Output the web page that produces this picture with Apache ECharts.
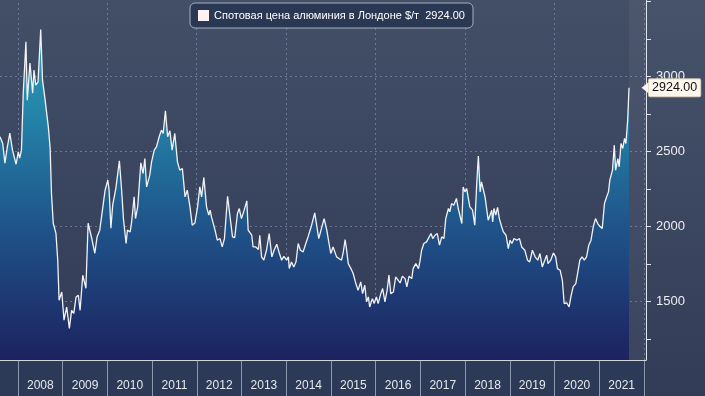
<!DOCTYPE html>
<html><head><meta charset="utf-8">
<script src="https://cdn.jsdelivr.net/npm/echarts@6/dist/echarts.min.js"></script>
<style>html,body{margin:0;padding:0;background:#3a4560;}#c{width:705px;height:396px;}</style>
</head><body><div id="c"></div>
<script>
const seriesName = 'Спотовая цена алюминия в Лондоне $/т';
const yearLabels = ['2008','2009','2010','2011','2012','2013','2014','2015','2016','2017','2018','2019','2020','2021'];
const yLabelValues = [1500, 2000, 2500, 3000];
const yTickValues = [1250, 1500, 1750, 2000, 2250, 2500, 2750, 3000, 3250, 3500];
const gridYears = [2008, 2010, 2012, 2014, 2016, 2018, 2020, 2022];
const axisStartYear = 2007.60;
const axisEndYear = 2022.05;
const yMin = 1111, yMax = 3509;

const dates = [
2007.60,2007.66,2007.71,2007.76,2007.82,2007.88,2007.96,2008.01,2008.04,2008.08,2008.12,2008.18,2008.21,2008.27,2008.33,2008.36,2008.40,2008.45,2008.51,2008.55,
2008.60,2008.68,2008.72,2008.75,2008.79,2008.85,2008.89,2008.92,2008.98,2009.03,2009.09,2009.15,2009.20,2009.25,2009.30,2009.35,2009.39,2009.45,2009.52,2009.57,
2009.65,2009.72,2009.77,2009.83,2009.87,2009.95,2010.01,2010.04,2010.08,2010.12,2010.19,2010.27,2010.32,2010.36,2010.42,2010.45,2010.51,2010.54,2010.60,2010.63,
2010.68,2010.75,2010.80,2010.84,2010.88,2010.95,2010.99,2011.05,2011.10,2011.16,2011.21,2011.25,2011.30,2011.35,2011.40,2011.45,2011.51,2011.57,2011.62,2011.68,
2011.74,2011.79,2011.85,2011.90,2011.96,2012.02,2012.07,2012.11,2012.16,2012.22,2012.27,2012.30,2012.33,2012.41,2012.46,2012.52,2012.57,2012.62,2012.69,2012.74,
2012.80,2012.85,2012.91,2012.95,2013.00,2013.06,2013.12,2013.15,2013.23,2013.26,2013.32,2013.38,2013.41,2013.45,2013.50,2013.56,2013.62,2013.68,2013.73,2013.79,
2013.85,2013.90,2013.95,2014.01,2014.05,2014.07,2014.12,2014.17,2014.22,2014.27,2014.32,2014.38,2014.44,2014.49,2014.57,2014.64,2014.73,2014.78,2014.85,2014.91,
2014.96,2015.00,2015.05,2015.09,2015.13,2015.18,2015.24,2015.28,2015.32,2015.35,2015.39,2015.45,2015.50,2015.55,2015.61,2015.67,2015.71,2015.76,2015.80,2015.84,
2015.87,2015.93,2015.97,2016.02,2016.06,2016.12,2016.16,2016.21,2016.26,2016.30,2016.34,2016.40,2016.45,2016.49,2016.55,2016.60,2016.66,2016.70,2016.75,2016.81,
2016.84,2016.90,2016.96,2016.99,2017.03,2017.08,2017.14,2017.20,2017.24,2017.28,2017.33,2017.38,2017.43,2017.48,2017.53,2017.57,2017.63,2017.66,2017.70,2017.75,
2017.81,2017.85,2017.89,2017.93,2017.96,2018.00,2018.04,2018.07,2018.11,2018.17,2018.22,2018.26,2018.30,2018.34,2018.37,2018.41,2018.45,2018.49,2018.52,2018.56,
2018.60,2018.62,2018.65,2018.69,2018.73,2018.77,2018.82,2018.86,2018.92,2018.97,2019.01,2019.05,2019.10,2019.16,2019.22,2019.27,2019.34,2019.40,2019.45,2019.51,
2019.57,2019.63,2019.68,2019.73,2019.77,2019.83,2019.86,2019.92,2019.98,2020.03,2020.07,2020.13,2020.18,2020.22,2020.28,2020.33,2020.37,2020.42,2020.48,2020.52,
2020.57,2020.62,2020.67,2020.72,2020.77,2020.82,2020.87,2020.92,2020.97,2021.02,2021.07,2021.12,2021.17,2021.21,2021.24,2021.30,2021.34,2021.37,2021.42,2021.45,
2021.49,2021.53,2021.57,2021.60,2021.64,2021.67
];
const prices = [
2598,2555,2422,2522,2622,2509,2415,2498,2456,2509,2889,3231,2842,3089,2889,3042,2942,2964,3313,2976,
2864,2664,2522,2222,2022,1955,1776,1509,1564,1376,1464,1322,1442,1422,1531,1542,1442,1676,1589,2022,
1922,1822,1931,1976,2064,2242,2309,2242,1989,2142,2253,2438,2242,2053,1887,1976,1964,2020,2198,2053,
2131,2424,2353,2453,2264,2342,2431,2509,2531,2598,2642,2620,2771,2598,2638,2509,2620,2431,2376,2387,
2198,2242,2131,2009,2024,2131,2264,2198,2327,2131,2076,2109,2064,1976,1909,1920,1864,1920,2202,2076,
1931,1927,2087,2120,2053,2109,2171,1976,1942,1864,1864,1847,1942,1798,1776,1842,1953,1798,1842,1882,
1820,1776,1802,1776,1798,1720,1764,1731,1764,1887,1842,1831,1887,1931,2009,2091,1920,1976,2053,1976,
1887,1820,1864,1876,1798,1787,1776,1831,1913,1853,1753,1720,1687,1631,1575,1631,1553,1609,1498,1531,
1464,1520,1487,1531,1487,1553,1587,1498,1575,1676,1553,1564,1664,1669,1624,1669,1653,1598,1669,1653,
1720,1753,1720,1764,1842,1887,1898,1931,1953,1920,1942,1953,1876,1931,1920,2053,2120,2098,2153,2142,
2187,2120,2131,2020,2264,2231,2253,2198,2131,2109,2009,2264,2469,2231,2298,2309,2198,2109,2042,2042,
2109,2031,2120,2076,2127,2053,2000,1964,1942,1853,1909,1887,1920,1909,1920,1864,1842,1776,1764,1842,
1798,1776,1820,1731,1742,1809,1753,1776,1824,1798,1720,1709,1642,1487,1491,1464,1531,1598,1620,1687,
1776,1798,1776,1798,1876,1909,2000,2053,2020,2000,1987,2153,2198,2231,2309,2376,2542,2376,2453,2398,
2553,2520,2587,2553,2709,2924
];

function yearToTs(y) {
  const Y = Math.floor(y);
  const a = Date.UTC(Y, 0, 1), b = Date.UTC(Y + 1, 0, 1);
  return a + (y - Y) * (b - a);
}
const seriesData = dates.map((d, i) => [yearToTs(d), prices[i]]);
const lastVal = prices[prices.length - 1];
const lastTs = yearToTs(dates[dates.length - 1]);
const FONT = 'Liberation Sans';

const chart = echarts.init(document.getElementById('c'), null, { renderer: 'canvas' });
const gridLineStyle = { type: [2, 3], color: 'rgba(140,160,195,0.55)', width: 1 };

chart.setOption({
  animation: false,
  backgroundColor: new echarts.graphic.LinearGradient(0, 0, 0, 1, [
    { offset: 0, color: '#47526b' }, { offset: 1, color: '#323c56' }]),
  textStyle: { fontFamily: FONT },
  graphic: [{
    type: 'rect', z: -1, silent: true,
    shape: { x: 0, y: 360, width: 646, height: 36 },
    style: { fill: '#2c3a57' }
  }],
  legend: {
    left: 190, top: 3,
    padding: [7, 8, 7, 8],
    backgroundColor: '#2b3854',
    borderColor: '#a7afbd', borderWidth: 1, borderRadius: 5,
    itemWidth: 11, itemHeight: 11, itemGap: 6,
    textStyle: { color: '#ffffff', fontSize: 11, fontFamily: FONT },
    data: [{ name: seriesName, icon: 'rect', itemStyle: { color: '#fdf2f2' } }],
    formatter: n => n + '  ' + lastVal.toFixed(2)
  },
  grid: [
    { left: 0, right: 59, top: 0, bottom: 36, show: true, borderWidth: 0,
      backgroundColor: new echarts.graphic.LinearGradient(0, 0, 0, 1, [
        { offset: 0, color: '#434e67' }, { offset: 1, color: '#323c57' }]) },
    { left: 18, right: 61, top: 360, height: 36, show: false }
  ],
  xAxis: [
    { type: 'time', gridIndex: 0, min: yearToTs(axisStartYear), max: yearToTs(axisEndYear),
      axisLine: { show: true, lineStyle: { color: '#cfd4dd' } },
      axisTick: { show: false }, axisLabel: { show: false }, splitLine: { show: false } },
    { type: 'category', gridIndex: 1, data: yearLabels, boundaryGap: true, position: 'bottom',
      axisLine: { show: false }, axisTick: { show: false },
      axisLabel: { inside: true, margin: 4, color: '#e6e8ec', fontSize: 12, fontFamily: FONT },
      splitLine: { show: true, lineStyle: { color: '#8e99ad', width: 1 } } }
  ],
  yAxis: [
    { type: 'value', gridIndex: 0, position: 'right', min: yMin, max: yMax,
      axisLine: { show: true, lineStyle: { color: '#dfe3ea', width: 1 } },
      axisTick: { show: true, length: 5, customValues: yTickValues, lineStyle: { color: '#dfe3ea' } },
      axisLabel: { show: true, customValues: yLabelValues, margin: 10, color: '#eceef2', fontSize: 13, fontFamily: FONT,
        formatter: v => String(v) },
      splitLine: { show: false } },
    { type: 'value', gridIndex: 1, show: false }
  ],
  series: [{
    name: seriesName, type: 'line', xAxisIndex: 0, yAxisIndex: 0,
    data: seriesData, showSymbol: false, symbol: 'none',
    lineStyle: { color: '#f2f3f6', width: 1.3 },
    itemStyle: { color: '#f2f3f6' },
    areaStyle: {
      opacity: 1,
      color: new echarts.graphic.LinearGradient(0, 0, 0, 360, [
        { offset: 0, color: '#2ba8be' },
        { offset: 0.32, color: '#2483a8' },
        { offset: 0.62, color: '#1f558b' },
        { offset: 1, color: '#1d2260' }], true)
    },
    endLabel: {
      show: true, distance: 20,
      formatter: () => lastVal.toFixed(2),
      color: '#111', fontSize: 12.5, fontFamily: FONT,
      backgroundColor: '#fdf6ec', borderColor: '#cfc6b8', borderWidth: 1,
      padding: [2, 3, 2, 3], borderRadius: 1
    },
    markLine: {
      silent: true, symbol: 'none', label: { show: false },
      lineStyle: gridLineStyle, z: 1,
      data: yLabelValues.map(v => ({ yAxis: v })).concat(gridYears.map(y => ({ xAxis: yearToTs(y) })))
    },
    markArea: {
      silent: true,
      itemStyle: { color: 'rgba(255,255,255,0.05)' },
      data: [[{ xAxis: lastTs }, { xAxis: yearToTs(axisEndYear) }]]
    },
    markPoint: {
      silent: true,
      symbol: 'path://M0,5 L6,0 L6,10 Z',
      symbolSize: [7, 11],
      symbolOffset: [16, 0],
      itemStyle: { color: '#fdf6ec' },
      label: { show: false },
      data: [{ coord: [lastTs, lastVal] }]
    }
  }]
});
</script>
</body></html>
